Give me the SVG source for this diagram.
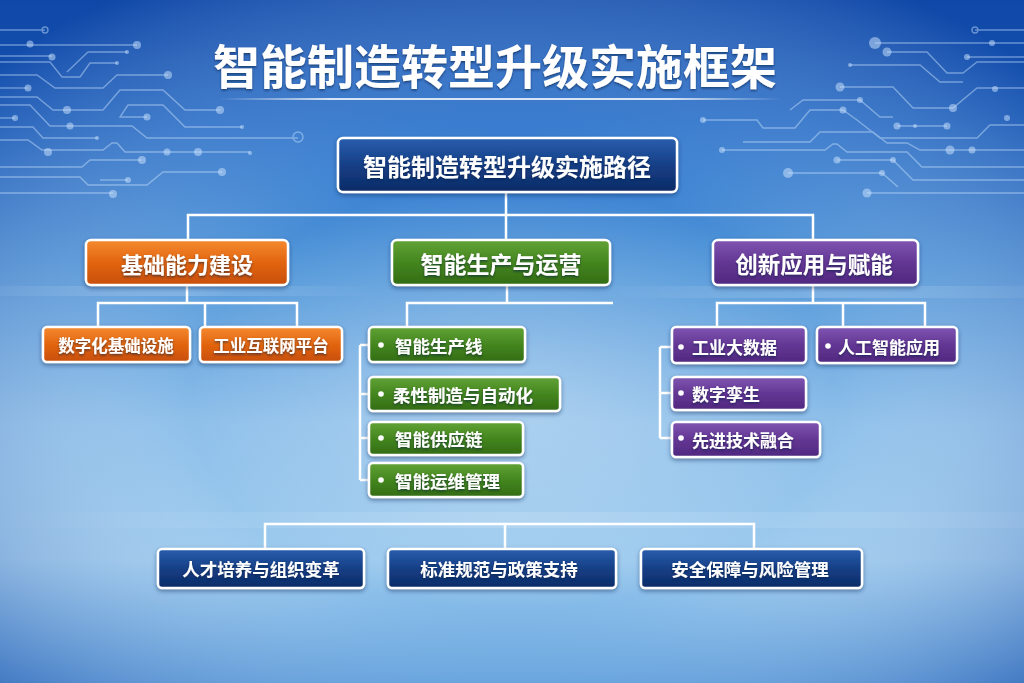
<svg xmlns="http://www.w3.org/2000/svg" width="1024" height="683" viewBox="0 0 1024 683">
<defs>
<linearGradient id="bg" x1="0" y1="0" x2="0" y2="1">
<stop offset="0" stop-color="#1656b6"/>
<stop offset="0.18" stop-color="#2670cb"/>
<stop offset="0.4" stop-color="#5599da"/>
<stop offset="0.62" stop-color="#8fc0ea"/>
<stop offset="0.82" stop-color="#9ccaee"/>
<stop offset="1" stop-color="#5c9fdd"/>
</linearGradient>
<radialGradient id="vig" cx="0.5" cy="0.58" r="0.7">
<stop offset="0" stop-color="#ffffff" stop-opacity="0.28"/>
<stop offset="0.45" stop-color="#ffffff" stop-opacity="0"/>
<stop offset="1" stop-color="#0a3c9c" stop-opacity="0.55"/>
</radialGradient>
<linearGradient id="sep" x1="0" y1="0" x2="1" y2="0">
<stop offset="0" stop-color="#fff" stop-opacity="0"/>
<stop offset="0.2" stop-color="#fff" stop-opacity="0.8"/>
<stop offset="0.8" stop-color="#fff" stop-opacity="0.8"/>
<stop offset="1" stop-color="#fff" stop-opacity="0"/>
</linearGradient>
<linearGradient id="band" x1="0" y1="0" x2="1" y2="0">
<stop offset="0" stop-color="#fff" stop-opacity="0"/>
<stop offset="0.5" stop-color="#fff" stop-opacity="0.18"/>
<stop offset="1" stop-color="#fff" stop-opacity="0.05"/>
</linearGradient>
<linearGradient id="gNavy" x1="0" y1="0" x2="0" y2="1">
<stop offset="0" stop-color="#2a5eae"/>
<stop offset="0.5" stop-color="#163f86"/>
<stop offset="1" stop-color="#0c2b66"/>
</linearGradient>
<linearGradient id="gOrange" x1="0" y1="0" x2="0" y2="1">
<stop offset="0" stop-color="#f58a30"/>
<stop offset="0.5" stop-color="#e2650f"/>
<stop offset="1" stop-color="#c84e08"/>
</linearGradient>
<linearGradient id="gGreen" x1="0" y1="0" x2="0" y2="1">
<stop offset="0" stop-color="#62a336"/>
<stop offset="0.5" stop-color="#44861f"/>
<stop offset="1" stop-color="#336c14"/>
</linearGradient>
<linearGradient id="gPurple" x1="0" y1="0" x2="0" y2="1">
<stop offset="0" stop-color="#8056b2"/>
<stop offset="0.5" stop-color="#633694"/>
<stop offset="1" stop-color="#50287f"/>
</linearGradient>
<filter id="sh" x="-10%" y="-20%" width="120%" height="150%">
<feDropShadow dx="0" dy="2" stdDeviation="2" flood-color="#0a2a5a" flood-opacity="0.5"/>
</filter>
<filter id="tsh" x="-5%" y="-20%" width="110%" height="150%">
<feDropShadow dx="0" dy="1.5" stdDeviation="1" flood-color="#061a40" flood-opacity="0.6"/>
</filter>
</defs>
<style>
.box{stroke:#ffffff;stroke-width:2.5;filter:url(#sh)}
.navy{fill:url(#gNavy)}
.orange{fill:url(#gOrange)}
.green{fill:url(#gGreen)}
.purple{fill:url(#gPurple)}
.t{font-family:"Noto Sans CJK SC","Noto Sans",sans-serif;font-weight:bold;fill:#ffffff;filter:url(#tsh)}
.c{text-anchor:middle;dominant-baseline:central}
.s{text-anchor:start;dominant-baseline:central}
.ln{fill:none;stroke:#ffffff;stroke-width:2.5;stroke-linejoin:miter}
.cir{fill:none;stroke:#cfe6ff;stroke-width:1.4;opacity:0.45}
.cd{fill:#cfe6ff;opacity:0.5}
.dot{fill:#ffffff}
</style>

<rect width="1024" height="683" fill="url(#bg)"/>
<rect width="1024" height="683" fill="url(#vig)"/>
<rect x="600" y="286" width="424" height="12" fill="url(#band)"/>
<rect x="0" y="286" width="380" height="10" fill="url(#band)" transform="matrix(-1 0 0 1 380 0)"/>
<rect x="0" y="512" width="1024" height="16" fill="url(#band)" opacity="0.8"/>

<g id="circuits">
<g class="cir">
<path d="M0,30 H45"/><path d="M0,45 H137"/><path d="M0,56 H52"/>
<path d="M0,62 H50 L62,77 H80 L90,63 H117"/>
<path d="M67,72 L88,52 H127"/>
<path d="M0,75 H37 L55,88 H103 L117,75 H168"/>
<path d="M0,88 H28"/>
<path d="M0,97 H37 L53,110 H103 L120,90 H163 L185,110 H220"/>
<path d="M147,117 H120 L128,105 H163 L185,127 H242"/>
<path d="M0,118 H15"/>
<path d="M0,127 H33 L43,138 H97"/>
<path d="M0,105 H30 L50,126 H132 L147,138 H298"/>
<path d="M0,140 H28 L42,150 H103 L112,143 H117 L125,152 H250"/>
<path d="M0,167 H82 L90,160 H142"/>
<path d="M0,177 H80 L88,185 H147 L163,172 H222"/>
<path d="M100,180 H128"/>
<path d="M0,193 H113"/>
<circle cx="45" cy="30" r="3"/><circle cx="298" cy="137" r="5"/>
<path d="M975,30 H1024"/><path d="M875,43 H1024"/>
<path d="M887,52 H927 L947,73 H963 L977,62 H1024"/>
<path d="M850,65 H920 L940,82 H963"/>
<path d="M967,57 H1024"/>
<path d="M840,87 H893 L913,108 H953 L977,88 H1024"/>
<path d="M703,120 H757 L763,128 H795 L810,110 H843 L857,120 L880,138 H977 L990,125 H1024"/>
<path d="M790,110 L803,100 H860 L880,117 H893"/>
<path d="M897,126 H947"/>
<path d="M743,142 H810 L820,132 H873 L887,143 H907 L920,150 H1024"/>
<path d="M722,150 H825 L833,144 H837 L847,152 H907 L922,167 H1024"/>
<path d="M837,160 H893 L913,180 H1024"/>
<path d="M788,173 H882 L898,187"/>
<path d="M867,193 H1024"/>
<circle cx="975" cy="30" r="3"/>
</g>
<g class="cd">
<circle cx="137" cy="45" r="4"/><circle cx="30" cy="44" r="3.5"/><circle cx="52" cy="57" r="3.5"/>
<circle cx="117" cy="63" r="2"/><circle cx="127" cy="52" r="2"/><circle cx="168" cy="75" r="4"/>
<circle cx="28" cy="88" r="3.5"/><circle cx="220" cy="110" r="4"/><circle cx="67" cy="110" r="4"/>
<circle cx="147" cy="117" r="3.5"/><circle cx="242" cy="127" r="2"/><circle cx="15" cy="118" r="3"/>
<circle cx="97" cy="138" r="2"/><circle cx="70" cy="126" r="3.5"/>
<circle cx="48" cy="152" r="4"/><circle cx="167" cy="152" r="3.5"/><circle cx="198" cy="152" r="4"/><circle cx="250" cy="153" r="2"/>
<circle cx="142" cy="160" r="4"/><circle cx="222" cy="172" r="4"/><circle cx="128" cy="180" r="3"/><circle cx="113" cy="194" r="4"/>
<circle cx="875" cy="43" r="6"/><circle cx="992" cy="43" r="3"/><circle cx="887" cy="52" r="4.5"/>
<circle cx="850" cy="65" r="2"/><circle cx="967" cy="57" r="3"/>
<circle cx="840" cy="87" r="4.5"/><circle cx="953" cy="108" r="4"/><circle cx="995" cy="89" r="3"/>
<circle cx="843" cy="110" r="3.5"/><circle cx="1007" cy="118" r="3"/><circle cx="860" cy="100" r="3"/>
<circle cx="897" cy="126" r="3.5"/><circle cx="947" cy="126" r="3.5"/><circle cx="915" cy="126" r="2"/>
<circle cx="950" cy="150" r="4.5"/><circle cx="972" cy="150" r="3.5"/><circle cx="722" cy="150" r="3"/>
<circle cx="837" cy="160" r="3.5"/><circle cx="893" cy="160" r="3"/><circle cx="788" cy="173" r="5"/><circle cx="882" cy="173" r="3"/>
<circle cx="867" cy="193" r="4.5"/><circle cx="703" cy="120" r="3"/>
</g>
</g>

<g id="title">
<text class="t c" x="495" y="63" font-size="47">智能制造转型升级实施框架</text>
<rect x="219" y="98" width="562" height="2" fill="url(#sep)"/>
</g>

<g id="connectors">
<path class="ln" d="M506,192 V215 M188,240 V215 H813 V240 M506,215 V240"/>
<path class="ln" d="M187,285 V303 M98,327 V303 H297 V327 M205,303 V327"/>
<path class="ln" d="M507,285 V303 M407,327 V303 H613"/>
<path class="ln" d="M360,345 V480 M360,345 H381 M360,394 H381 M360,438 H381 M360,480 H381"/>
<path class="ln" d="M813,285 V303 M717,327 V303 H925 V327 M843,303 V327"/>
<path class="ln" d="M660,347 V438 M660,347 H681 M660,393 H681 M660,438 H681"/>
<path class="ln" d="M265,550 V524 H754 V550 M505,524 V550"/>
</g>

<g id="node-root">
<rect class="box navy" x="338" y="138" width="339" height="54" rx="5"/>
<text class="t c" x="507" y="165" font-size="24">智能制造转型升级实施路径</text>
</g>

<g id="node-base">
<rect class="box orange" x="86" y="240" width="202" height="45" rx="5"/>
<text class="t c" x="187" y="263" font-size="22">基础能力建设</text>
</g>
<g id="node-base-1">
<rect class="box orange" x="43" y="327" width="147" height="35" rx="4"/>
<text class="t c" x="116" y="345" font-size="16.5">数字化基础设施</text>
</g>
<g id="node-base-2">
<rect class="box orange" x="200" y="327" width="142" height="35" rx="4"/>
<text class="t c" x="271" y="345" font-size="16.5">工业互联网平台</text>
</g>

<g id="node-prod">
<rect class="box green" x="392" y="240" width="218" height="45" rx="5"/>
<text class="t c" x="501" y="263" font-size="23">智能生产与运营</text>
</g>
<g id="node-prod-1">
<rect class="box green" x="369" y="327" width="156" height="35" rx="4"/>
<circle class="dot" cx="381" cy="345" r="2.8"/>
<text class="t s" x="395" y="345" font-size="17.5">智能生产线</text>
</g>
<g id="node-prod-2">
<rect class="box green" x="369" y="377" width="191" height="34" rx="4"/>
<circle class="dot" cx="381" cy="394" r="2.8"/>
<text class="t s" x="393" y="394" font-size="17.5">柔性制造与自动化</text>
</g>
<g id="node-prod-3">
<rect class="box green" x="369" y="422" width="154" height="33" rx="4"/>
<circle class="dot" cx="381" cy="438" r="2.8"/>
<text class="t s" x="395" y="438" font-size="17.5">智能供应链</text>
</g>
<g id="node-prod-4">
<rect class="box green" x="369" y="463" width="154" height="34" rx="4"/>
<circle class="dot" cx="381" cy="480" r="2.8"/>
<text class="t s" x="395" y="480" font-size="17.5">智能运维管理</text>
</g>

<g id="node-innov">
<rect class="box purple" x="713" y="240" width="205" height="45" rx="5"/>
<text class="t c" x="814" y="263" font-size="22.5">创新应用与赋能</text>
</g>
<g id="node-innov-1">
<rect class="box purple" x="672" y="327" width="134" height="36" rx="4"/>
<circle class="dot" cx="681" cy="347" r="2.8"/>
<text class="t s" x="692" y="346" font-size="17">工业大数据</text>
</g>
<g id="node-innov-2">
<rect class="box purple" x="817" y="327" width="140" height="36" rx="4"/>
<circle class="dot" cx="828" cy="346" r="2.8"/>
<text class="t s" x="838" y="346" font-size="17">人工智能应用</text>
</g>
<g id="node-innov-3">
<rect class="box purple" x="672" y="377" width="134" height="33" rx="4"/>
<circle class="dot" cx="681" cy="393" r="2.8"/>
<text class="t s" x="692" y="393" font-size="17">数字孪生</text>
</g>
<g id="node-innov-4">
<rect class="box purple" x="672" y="422" width="148" height="35" rx="4"/>
<circle class="dot" cx="681" cy="438" r="2.8"/>
<text class="t s" x="692" y="439" font-size="17">先进技术融合</text>
</g>

<g id="node-talent">
<rect class="box navy" x="158" y="549" width="206" height="39" rx="4"/>
<text class="t c" x="261" y="568" font-size="17.5">人才培养与组织变革</text>
</g>
<g id="node-standard">
<rect class="box navy" x="388" y="549" width="228" height="39" rx="4"/>
<text class="t c" x="499" y="568" font-size="17.5">标准规范与政策支持</text>
</g>
<g id="node-security">
<rect class="box navy" x="641" y="549" width="221" height="39" rx="4"/>
<text class="t c" x="750" y="568" font-size="17.5">安全保障与风险管理</text>
</g>
</svg>
